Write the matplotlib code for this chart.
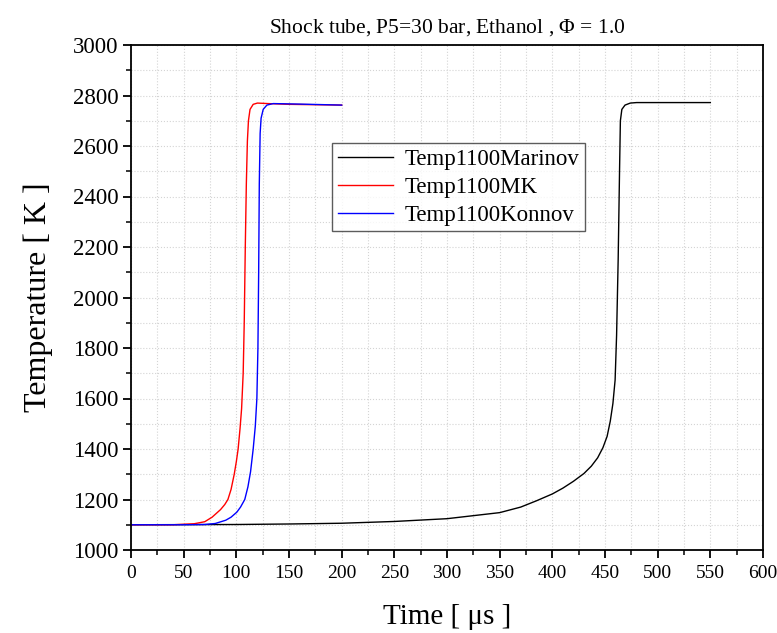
import numpy as np
import matplotlib
matplotlib.use("Agg")
import matplotlib.pyplot as plt
from matplotlib.ticker import MultipleLocator

plt.rcParams['font.family'] = ['Liberation Serif', 'DejaVu Serif']
plt.rcParams['mathtext.fontset'] = 'custom'
plt.rcParams['mathtext.rm'] = 'Liberation Serif'

# Marinov mechanism
t_marinov = [0, 100, 150, 200, 250, 300, 350, 370, 385, 400, 410, 420, 430, 437,
             443, 448, 452, 455, 457.5, 459.6, 461, 462.5, 463.8, 464.6, 466, 469,
             474, 480, 550]
T_marinov = [1100, 1101, 1103, 1106, 1113, 1124, 1148, 1170, 1195, 1222, 1245, 1272,
             1303, 1332, 1365, 1405, 1450, 1510, 1580, 1673, 1850, 2150, 2500, 2700,
             2745, 2762, 2770, 2772, 2772]

# MK mechanism
t_mk = [0, 40, 60, 70, 77, 85, 89, 92, 95, 98, 100, 101.7, 103.5, 105, 106.5, 107.5,
        108.5, 109.5, 110.5, 111.5, 113, 116, 120, 130, 150, 200]
T_mk = [1100, 1100, 1104, 1112, 1130, 1160, 1180, 1200, 1240, 1300, 1350, 1400, 1480,
        1560, 1700, 1900, 2200, 2450, 2620, 2700, 2745, 2765, 2770, 2768, 2765, 2762]

# Konnov mechanism
t_konnov = [0, 50, 70, 80, 90, 95, 100.5, 104, 108, 111, 113.5, 116, 118, 119.5,
            120.5, 121.2, 121.8, 122.6, 123.5, 125.5, 129, 135, 160, 200]
T_konnov = [1100, 1100, 1101, 1105, 1118, 1130, 1150, 1170, 1200, 1250, 1310, 1400,
            1490, 1600, 1800, 2100, 2450, 2650, 2710, 2745, 2762, 2768, 2766, 2762]

fig = plt.figure(figsize=(7.77, 6.33), dpi=100)
ax = fig.add_axes([131/777, 1 - 550/633, 632/777, 505/633])

ax.plot(t_marinov, T_marinov, color='black', lw=1.0, label='Temp1100Marinov')
ax.plot(t_mk, T_mk, color='red', lw=1.0, label='Temp1100MK')
ax.plot(t_konnov, T_konnov, color='blue', lw=1.0, label='Temp1100Konnov')

ax.set_xlim(0, 600)
ax.set_ylim(1000, 3000)
ax.xaxis.set_major_locator(MultipleLocator(50))
ax.xaxis.set_minor_locator(MultipleLocator(25))
ax.yaxis.set_major_locator(MultipleLocator(200))
ax.yaxis.set_minor_locator(MultipleLocator(100))

ax.grid(True, which='both', linestyle=':', color='#d4d4d4', lw=0.8)
ax.set_axisbelow(True)

ax.tick_params(which='major', direction='out', length=6, width=1.3,
               top=False, right=False)
ax.tick_params(which='minor', direction='out', length=3.5, width=1.1,
               top=False, right=False)
ax.tick_params(axis='x', which='major', labelsize=14, pad=5)
ax.tick_params(axis='y', which='major', labelsize=16.5, pad=3)
for s in ax.spines.values():
    s.set_linewidth(1.3)

ax.set_xlabel('Time [ \u03bcs ]', fontsize=21, labelpad=16)
ax.set_ylabel('Temperature [ K ]', fontsize=23, labelpad=14)
ax.set_title(r'Shock tube, P5=30 bar, Ethanol , $\Phi$ = 1.0', fontsize=15.5, pad=9)

leg = ax.legend(loc='upper left', bbox_to_anchor=(0.318, 0.806), fontsize=16.5,
                frameon=True, fancybox=False, edgecolor='#333333',
                handlelength=2.4, borderpad=0.25, labelspacing=0.3,
                handletextpad=0.5, borderaxespad=0)
leg.get_frame().set_linewidth(1.0)

fig.savefig('out.png', dpi=100)
